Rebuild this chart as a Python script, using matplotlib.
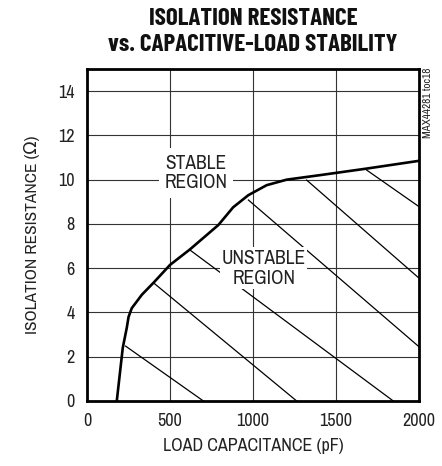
import matplotlib
matplotlib.use("Agg")
import matplotlib.pyplot as plt

plt.rcParams['font.family'] = ['Archivo Narrow', 'DejaVu Sans']

# stability boundary (load capacitance pF, isolation resistance ohm)
cap_pf = [179, 215, 239, 250, 269, 330, 400, 500, 620, 791, 880, 972, 1082, 1203, 1400, 1685, 2000]
riso = [0, 2.4, 3.3, 3.8, 4.19, 4.8, 5.34, 6.15, 6.85, 7.95, 8.75, 9.3, 9.75, 10.0, 10.2, 10.5, 10.85]

# hatch lines in the unstable region: (x0, y0, x1, y1)
hatch = [
    (232, 2.48, 701, 0),
    (400, 5.34, 1263, 0),
    (620, 6.82, 1845, 0),
    (972, 9.08, 2000, 2.45),
    (1323, 9.98, 2000, 5.55),
    (1685, 10.43, 2000, 8.78),
]

xticks = [0, 500, 1000, 1500, 2000]
yticks = [0, 2, 4, 6, 8, 10, 12, 14]

fig = plt.figure(figsize=(4.42, 4.66), dpi=100)
ax = fig.add_axes([0.197, 0.1395, 0.751, 0.7125])

for v in xticks[1:-1]:
    ax.axvline(v, color='#333333', lw=0.8, zorder=1)
for v in yticks[1:]:
    ax.axhline(v, color='#333333', lw=0.8, zorder=1)

for x0, y0, x1, y1 in hatch:
    ax.plot([x0, x1], [y0, y1], color='black', lw=0.9, zorder=2)

ax.plot(cap_pf, riso, color='black', lw=1.9, zorder=3)

ax.text(655, 10.3, "STABLE\nREGION", ha='center', va='center', fontsize=14,
        linespacing=1.05, color='#222222', zorder=4,
        bbox=dict(facecolor='white', edgecolor='none', pad=4))
ax.text(1065, 6.0, "UNSTABLE\nREGION", ha='center', va='center', fontsize=14,
        linespacing=1.05, color='#222222', zorder=4,
        bbox=dict(facecolor='white', edgecolor='none', pad=1))

ax.set_xlim(0, 2000)
ax.set_ylim(0, 15)
ax.set_xticks(xticks)
ax.set_yticks(yticks)
ax.tick_params(length=0, labelsize=13, pad=9, colors='#222222')
for s in ax.spines.values():
    s.set_linewidth(2)

ax.set_xlabel("LOAD CAPACITANCE (pF)", fontsize=13, color='#222222', labelpad=6)
ax.set_ylabel("ISOLATION RESISTANCE (Ω)", fontsize=12.5, color='#222222', labelpad=13)

fig.text(0.572, 0.982, "ISOLATION RESISTANCE\nvs. CAPACITIVE-LOAD STABILITY",
         ha='center', va='top', fontsize=18, fontweight='bold',
         family=['Barlow Condensed', 'DejaVu Sans'],
         linespacing=1.2, color='#111111')
fig.text(0.968, 0.855, "MAX44281 toc18", rotation=90, ha='center', va='top',
         fontsize=8, color='#222222')

fig.savefig("out.png", dpi=100)
